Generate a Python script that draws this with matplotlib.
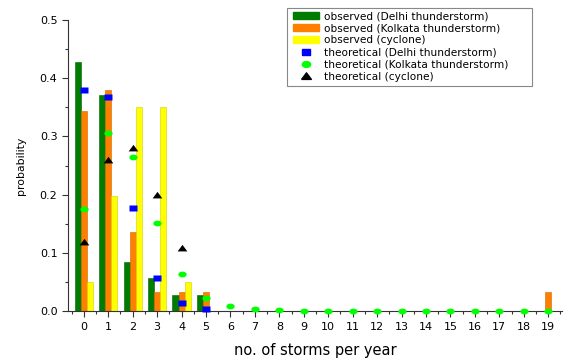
import numpy as np
import matplotlib
matplotlib.use("Agg")
import matplotlib.pyplot as plt
from matplotlib.patches import Patch, Rectangle
from matplotlib.lines import Line2D

plt.rcParams['font.family'] = ['DejaVu Sans']

storms = np.arange(0, 20)

# observed frequencies (bars)
obs_delhi = [0.428, 0.372, 0.085, 0.056, 0.028, 0.028] + [0] * 14
obs_kolkata = [0.344, 0.379, 0.136, 0.033, 0.033, 0.033] + [0] * 13 + [0.033]
obs_cyclone = [0.049, 0.198, 0.350, 0.350, 0.049] + [0] * 15

# theoretical probabilities (markers)
th_delhi_x = [0, 1, 2, 3, 4, 5]
th_delhi = [0.379, 0.368, 0.177, 0.057, 0.014, 0.004]
th_kolkata_x = list(range(0, 20))
th_kolkata = [0.176, 0.306, 0.264, 0.151, 0.064, 0.022, 0.008, 0.003,
              0.001, 0.0005, 0.0003, 0.0002, 0.0001, 0.0001, 0.0001,
              0.0001, 0.0001, 0.0001, 0.0001, 0.0001]
th_cyclone_x = [0, 1, 2, 3, 4]
th_cyclone = [0.119, 0.260, 0.280, 0.200, 0.109]

c_green = '#007d00'
c_orange = '#ff8000'
c_yellow = '#ffff00'

# flattened markers (the original looks stretched sideways)
rect = [(-1, -0.75), (1, -0.75), (1, 0.75), (-1, 0.75), (-1, -0.75)]
t = np.linspace(0, 2 * np.pi, 30)
ellipse = list(zip(np.cos(t), 0.7 * np.sin(t)))
tri = [(-1, -0.6), (1, -0.6), (0, 0.75), (-1, -0.6)]

fig = plt.figure(figsize=(5.65, 3.61), dpi=100)
ax = fig.add_axes([0.120, 0.1385, 0.875, 0.806])

w = 0.25
ax.bar(storms - w, obs_delhi, w, color=c_green, edgecolor='#006000', linewidth=0.4)
ax.bar(storms, obs_kolkata, w, color=c_orange, edgecolor='#d06800', linewidth=0.4)
ax.bar(storms + w, obs_cyclone, w, color=c_yellow, edgecolor='#d0d000', linewidth=0.4)

ax.plot(th_kolkata_x, th_kolkata, marker=ellipse, ls='none', color='#00ff00', ms=6, mec='none', clip_on=False, zorder=3)
ax.plot(th_delhi_x, th_delhi, marker=rect, ls='none', color='#0000ff', ms=5.5, mec='none', clip_on=False, zorder=4)
ax.plot(th_cyclone_x, th_cyclone, marker=tri, ls='none', color='black', ms=7, mec='none', zorder=5)

ax.set_xlim(-0.655, 19.57)
ax.set_ylim(0, 0.5)
ax.set_xticks(storms)
ax.set_xticks(np.arange(-0.5, 19.6, 1), minor=True)
ax.set_yticks(np.arange(0, 0.51, 0.1))
ax.set_yticks(np.arange(0.05, 0.5, 0.1), minor=True)
ax.yaxis.set_major_formatter(matplotlib.ticker.FormatStrFormatter('%.1f'))
ax.tick_params(which='major', length=4, width=0.8, labelsize=8, colors='#333333', labelcolor='black')
ax.tick_params(which='minor', length=2.5, width=0.8, colors='#333333')
ax.tick_params(axis='x', pad=4)

for s in ['top', 'right']:
    ax.spines[s].set_visible(False)
for s in ['left', 'bottom']:
    ax.spines[s].set_color('#333333')
    ax.spines[s].set_linewidth(0.8)

ax.set_xlabel('no. of storms per year', fontsize=10.5, labelpad=8)
ax.set_ylabel('probability', fontsize=7.8, labelpad=10)

handles = [
    Patch(color=c_green, label='observed (Delhi thunderstorm)'),
    Patch(color=c_orange, label='observed (Kolkata thunderstorm)'),
    Patch(color=c_yellow, label='observed (cyclone)'),
    Line2D([], [], ls='none', marker=rect, color='#0000ff', ms=5.5, label='theoretical (Delhi thunderstorm)'),
    Line2D([], [], ls='none', marker=ellipse, color='#00ff00', ms=6, label='theoretical (Kolkata thunderstorm)'),
    Line2D([], [], ls='none', marker=tri, color='black', ms=7, label='theoretical (cyclone)'),
]
leg = fig.legend(handles=handles, loc='upper left', bbox_to_anchor=(0.508, 0.985),
                 fontsize=7.6, frameon=False,
                 handlelength=2.5, handleheight=0.65, labelspacing=0.2,
                 handletextpad=0.45, borderpad=0.55, borderaxespad=0)

# legend frame, wider than the text as in the original
fig.patches.append(Rectangle((287 / 565, 1 - 86 / 361), 245 / 565, 78 / 361,
                             transform=fig.transFigure, fill=False,
                             edgecolor='#888888', linewidth=0.8))

fig.savefig('out.png', dpi=100)
